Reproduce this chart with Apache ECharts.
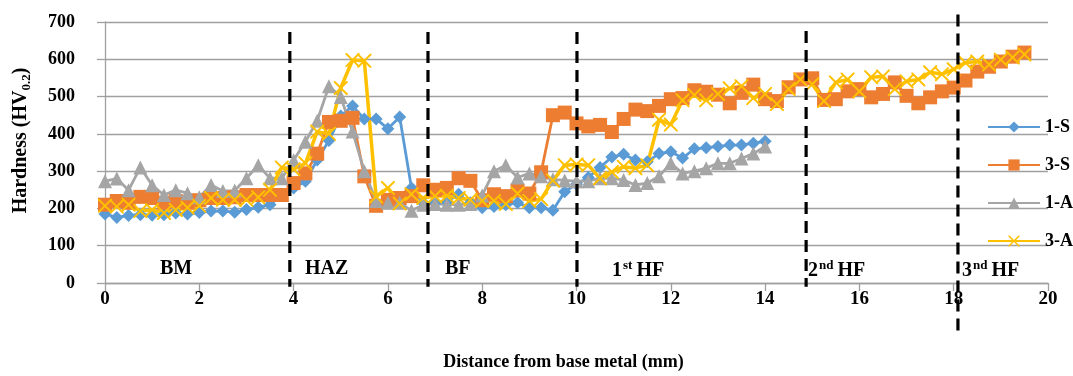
<!DOCTYPE html>
<html>
<head>
<meta charset="utf-8">
<script src="https://cdn.jsdelivr.net/npm/echarts@6/dist/echarts.min.js"></script>
<style>
  html, body { margin: 0; padding: 0; background: #ffffff; }
  #chart { width: 1073px; height: 376px; }
</style>
</head>
<body>
<div id="chart"></div>
<script>
// Measurement positions along the specimen (mm), 0.25 mm step
const distance = [
  0, 0.25, 0.5, 0.75, 1, 1.25, 1.5, 1.75, 2, 2.25, 2.5, 2.75, 3, 3.25, 3.5, 3.75,
  4, 4.25, 4.5, 4.75, 5, 5.25, 5.5, 5.75, 6, 6.25, 6.5, 6.75, 7, 7.25, 7.5, 7.75,
  8, 8.25, 8.5, 8.75, 9, 9.25, 9.5, 9.75, 10, 10.25, 10.5, 10.75, 11, 11.25, 11.5, 11.75,
  12, 12.25, 12.5, 12.75, 13, 13.25, 13.5, 13.75, 14, 14.25, 14.5, 14.75, 15, 15.25, 15.5, 15.75,
  16, 16.25, 16.5, 16.75, 17, 17.25, 17.5, 17.75, 18, 18.25, 18.5, 18.75, 19, 19.25, 19.5
];

// Hardness readings (HV0.2) for each specimen, one value per position above
const hv1S = [
  185, 176, 181, 183, 182, 183, 188, 185, 189, 193, 193, 190, 197, 203, 210, 235,
  255, 273, 330, 382, 448, 475, 440, 440, 414, 445, 255, 215, 215, 218, 238, 215,
  202, 205, 210, 215, 202, 202, 195, 245, 265, 283, 310, 338, 345, 330, 325, 347,
  352, 335, 360, 363, 366, 370, 370, 375, 380
];
const hv3S = [
  210, 220, 215, 231, 228, 215, 220, 215, 222, 228, 228, 230, 236, 236, 236, 236,
  268, 294, 347, 432, 435, 443, 286, 207, 223, 228, 233, 262, 250, 255, 281, 274,
  222, 238, 233, 248, 240, 297, 450, 457, 428, 420, 424, 405, 440, 465, 461, 475,
  493, 496, 517, 513, 505, 482, 510, 532, 493, 488, 525, 546, 549, 491, 493, 514,
  520, 498, 507, 538, 502, 482, 498, 514, 524, 543, 567, 580, 594, 607, 618
];
const hv1A = [
  273, 280, 249, 310, 262, 236, 249, 241, 230, 263, 247, 248, 281, 316, 281, 281,
  329, 379, 435, 528, 499, 406, 300, 220, 215, 215, 194, 210, 212, 210, 210, 212,
  235, 300, 316, 283, 294, 286, 278, 275, 273, 273, 281, 281, 276, 263, 268, 286,
  321, 294, 300, 308, 321, 321, 334, 347, 366
];
const hv3A = [
  207, 205, 210, 193, 196, 188, 196, 202, 207, 228, 223, 223, 223, 230, 250, 310,
  305, 321, 406, 400, 523, 598, 596, 232, 255, 213, 238, 228, 233, 234, 228, 223,
  220, 220, 212, 240, 220, 225, 275, 316, 318, 316, 281, 298, 312, 308, 316, 438,
  425, 490, 504, 490, 507, 522, 528, 496, 507, 480, 520, 546, 533, 488, 538, 546,
  514, 552, 554, 520, 541, 546, 565, 560, 573, 591, 594, 586, 599, 605, 613
];

// Zone boundaries (mm) with the hardness range each dashed divider spans
const boundaryX   = [3.92, 6.85, 10.01, 14.87, 18.09];
const boundaryTop = [673, 673, 673, 676, 720];
const boundaryBot = [-10, -10, -10, -10, -140];

// Zone names along the bottom of the plot
const zoneNames = ['BM', 'HAZ', 'BF', '1st HF', '2nd HF', '3nd HF'];

const xTicks = { min: 0, max: 20, step: 2 };
const yTicks = { min: 0, max: 700, step: 100 };

const serif = '"Liberation Serif", "Times New Roman", serif';
const axisGray = '#a0a0a0';

function pairs(values) {
  return values.map((v, i) => [distance[i], v]);
}

const crossPath = 'path://M0,0 L2,0 L10,8 L18,0 L20,0 L20,2 L12,10 L20,18 L20,20 L18,20 L10,12 L2,20 L0,20 L0,18 L8,10 L0,2 Z';

const chart = echarts.init(document.getElementById('chart'), null, { renderer: 'canvas' });

const zoneRich = {
  n: { fontFamily: serif, fontWeight: 'bold', fontSize: 20, color: '#000', lineHeight: 24 },
  s: { fontFamily: serif, fontWeight: 'bold', fontSize: 13, color: '#000', verticalAlign: 'top', lineHeight: 24, padding: [0, 4, 10, 1] }
};
function zoneText(name) {
  const m = name.match(/^(\d)(st|nd|rd|th)\s(.*)$/);
  if (m) return '{n|' + m[1] + '}{s|' + m[2] + '}{n|' + m[3] + '}';
  return '{n|' + name + '}';
}
const zoneLeft = [160, 305, 445, 612, 808, 962];

option = {
  backgroundColor: '#ffffff',
  animation: false,
  grid: { left: 105, right: 25, top: 22, bottom: 90, containLabel: false },
  legend: {
    orient: 'vertical',
    left: 982,
    top: 113,
    itemWidth: 52,
    itemHeight: 14,
    itemGap: 20,
    data: ['1-S', '3-S', '1-A', '3-A'],
    textStyle: { fontFamily: serif, fontWeight: 'bold', fontSize: 18, color: '#000' }
  },
  xAxis: {
    type: 'value',
    min: xTicks.min, max: xTicks.max, interval: xTicks.step,
    name: 'Distance from base metal (mm)',
    nameLocation: 'middle',
    nameGap: 70,
    nameTextStyle: { fontFamily: serif, fontWeight: 'bold', fontSize: 18, color: '#000', padding: [0, 26, 0, 0] },
    axisLine: { show: true, lineStyle: { color: axisGray, width: 1.3 } },
    axisTick: { show: true, inside: false, length: 8, lineStyle: { color: axisGray, width: 1.3 } },
    axisLabel: { margin: 7, fontFamily: serif, fontWeight: 'bold', fontSize: 19, color: '#000' },
    splitLine: { show: false }
  },
  yAxis: {
    type: 'value',
    min: yTicks.min, max: yTicks.max, interval: yTicks.step,
    name: '{a|Hardness (HV}{s|0.2}{a|)}',
    nameLocation: 'middle',
    nameGap: 72,
    nameRotate: 90,
    nameTextStyle: {
      padding: [0, 0, 0, 24],
      rich: {
        a: { fontFamily: serif, fontWeight: 'bold', fontSize: 20, color: '#000', lineHeight: 24 },
        s: { fontFamily: serif, fontWeight: 'bold', fontSize: 13, color: '#000', verticalAlign: 'bottom', lineHeight: 24, padding: [8, 0, 0, 0] }
      }
    },
    axisLine: { show: true, lineStyle: { color: axisGray, width: 1.3 } },
    axisTick: { show: true, inside: false, length: 8, lineStyle: { color: axisGray, width: 1.3 } },
    axisLabel: { margin: 30, fontFamily: serif, fontWeight: 'bold', fontSize: 18, color: '#000' },
    splitLine: { show: true, lineStyle: { color: axisGray, width: 1.3 } }
  },
  graphic: zoneNames.map((name, i) => ({
    type: 'text',
    left: zoneLeft[i],
    top: 259,
    z: 50,
    style: { text: zoneText(name), rich: zoneRich, fill: '#000' }
  })),
  series: [
    {
      name: '1-S', type: 'line', data: pairs(hv1S),
      symbol: 'diamond', symbolSize: 13,
      lineStyle: { color: '#5B9BD5', width: 2.8 },
      itemStyle: { color: '#5B9BD5' }
    },
    {
      name: '3-S', type: 'line', data: pairs(hv3S),
      symbol: 'rect', symbolSize: 14,
      lineStyle: { color: '#ED7D31', width: 2.8 },
      itemStyle: { color: '#ED7D31' }
    },
    {
      name: '1-A', type: 'line', data: pairs(hv1A),
      symbol: 'triangle', symbolSize: 14,
      lineStyle: { color: '#A5A5A5', width: 2.8 },
      itemStyle: { color: '#A5A5A5' }
    },
    {
      name: '3-A', type: 'line', data: pairs(hv3A),
      symbol: crossPath, symbolSize: 14,
      lineStyle: { color: '#FFC000', width: 3.5 },
      itemStyle: { color: '#FFC000' }
    },
    {
      name: 'zones', type: 'custom', clip: false, silent: true, z: 40,
      data: boundaryX.map((x, i) => [x, boundaryTop[i], boundaryBot[i]]),
      renderItem: function (params, api) {
        const top = api.coord([api.value(0), api.value(1)]);
        const bot = api.coord([api.value(0), api.value(2)]);
        return {
          type: 'line',
          shape: { x1: top[0], y1: top[1], x2: bot[0], y2: bot[1] },
          style: { stroke: '#000', lineWidth: 3.2, lineDash: [12, 7] }
        };
      }
    }
  ]
};
chart.setOption(option);
</script>
</body>
</html>
